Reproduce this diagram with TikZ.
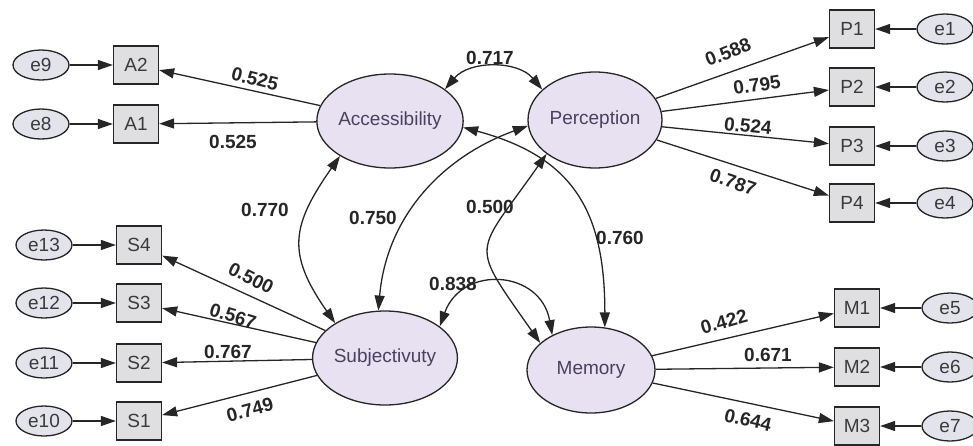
\documentclass[tikz,border=0pt]{standalone}
\usepackage{fontspec}
\setmainfont{Liberation Sans}
\usetikzlibrary{arrows.meta,shapes.geometric}
\definecolor{latfill}{HTML}{E8E1F1}
\definecolor{boxfill}{HTML}{DFDFE2}
\definecolor{errfill}{HTML}{E3E3EC}
\definecolor{lattext}{HTML}{4A4060}
\definecolor{boxtext}{HTML}{3A3A3A}
\definecolor{linecol}{HTML}{262626}

\begin{document}
\begin{tikzpicture}[x=1pt,y=1pt,
    latent/.style={draw=linecol, line width=1.3pt, ellipse, fill=latfill, minimum width=132pt, minimum height=94pt, inner sep=0pt, text=lattext, font=\fontsize{19}{22}\selectfont},
    manifest/.style={draw=linecol, line width=1.3pt, fill=boxfill, minimum width=45pt, minimum height=38pt, inner sep=0pt, text=boxtext, font=\fontsize{19}{22}\selectfont},
    errvar/.style={draw=linecol, line width=1.3pt, ellipse, fill=errfill, minimum width=56pt, minimum height=30pt, inner sep=0pt, text=boxtext, font=\fontsize{19}{22}\selectfont},
    coef/.style={text=linecol, font=\bfseries\fontsize{19}{22}\selectfont, inner sep=0pt},
    load/.style={draw=linecol, line width=1.3pt, -{Triangle[length=15pt,width=10pt]}},
    cov/.style={draw=linecol, line width=1.3pt, {Triangle[length=15pt,width=10pt]}-{Triangle[length=15pt,width=10pt]}}]
    \useasboundingbox (0,0) rectangle (973,-445);

    \node[latent, minimum width=128pt] (acc) at (390,-121) {Accessibility};
    \node[latent, minimum width=134pt, minimum height=96pt] (per) at (595,-120) {Perception};
    \node[latent, minimum width=140pt] (sub) at (385,-358) {Subjectivuty};
    \node[latent, minimum width=128pt, minimum height=86pt] (mem) at (591,-370) {Memory};

    \node[manifest] (A2) at (136,-65) {A2};
    \node[manifest] (A1) at (136,-124) {A1};
    \node[errvar] (e9) at (41,-65) {e9};
    \node[errvar] (e8) at (41,-124) {e8};

    \node[manifest] (S4) at (139,-245) {S4};
    \node[manifest] (S3) at (139,-303) {S3};
    \node[manifest] (S2) at (139,-363) {S2};
    \node[manifest] (S1) at (139,-421) {S1};
    \node[errvar] (e13) at (44,-245) {e13};
    \node[errvar] (e12) at (44,-303) {e12};
    \node[errvar] (e11) at (44,-363) {e11};
    \node[errvar] (e10) at (44,-421) {e10};

    \node[manifest] (P1) at (852,-29) {P1};
    \node[manifest] (P2) at (852,-87) {P2};
    \node[manifest] (P3) at (852,-146) {P3};
    \node[manifest] (P4) at (852,-203) {P4};
    \node[errvar] (e1) at (945,-29) {e1};
    \node[errvar] (e2) at (945,-87) {e2};
    \node[errvar] (e3) at (945,-146) {e3};
    \node[errvar] (e4) at (945,-203) {e4};

    \node[manifest] (M1) at (857,-308) {M1};
    \node[manifest] (M2) at (857,-367) {M2};
    \node[manifest] (M3) at (857,-426) {M3};
    \node[errvar] (e5) at (950,-308) {e5};
    \node[errvar] (e6) at (950,-367) {e6};
    \node[errvar] (e7) at (950,-426) {e7};

    \draw[load] (e9) -- (A2);
    \draw[load] (e8) -- (A1);
    \draw[load] (acc) -- (A2);
    \draw[load] (acc) -- (A1);
    \draw[load] (e13) -- (S4);
    \draw[load] (e12) -- (S3);
    \draw[load] (e11) -- (S2);
    \draw[load] (e10) -- (S1);
    \draw[load] (sub) -- (S4);
    \draw[load] (sub) -- (S3);
    \draw[load] (sub) -- (S2);
    \draw[load] (sub) -- (S1);
    \draw[load] (per) -- (P1);
    \draw[load] (per) -- (P2);
    \draw[load] (per) -- (P3);
    \draw[load] (per) -- (P4);
    \draw[load] (e1) -- (P1);
    \draw[load] (e2) -- (P2);
    \draw[load] (e3) -- (P3);
    \draw[load] (e4) -- (P4);
    \draw[load] (mem) -- (M1);
    \draw[load] (mem) -- (M2);
    \draw[load] (mem) -- (M3);
    \draw[load] (e5) -- (M1);
    \draw[load] (e6) -- (M2);
    \draw[load] (e7) -- (M3);

    \draw[cov] (acc.30) to[bend left=50] (per.150);
    \draw[cov] (acc.215) to[out=235, in=125, looseness=1.3] (sub.145);
    \draw[cov] (per.185) to[out=200, in=85] (sub.98);
    \draw[cov] (acc.-5) to[out=-15, in=90, looseness=1.2] (mem.72);
    \draw[cov] (per.215) to[out=235, in=125, looseness=1.7] (mem.152);
    \draw[cov] (sub.30) to[out=70, in=100, looseness=1.5] (mem.138);

    \node[coef, rotate=-14] (c1) at (255,-79) {0.525};
    \node[coef] (c2) at (233,-142) {0.525};
    \node[coef] (c3) at (490,-58) {0.717};
    \node[coef] (c4) at (265,-210) {0.770};
    \node[coef] (c5) at (373,-218) {0.750};
    \node[coef] (c6) at (490,-207) {0.500};
    \node[coef] (c7) at (620,-238) {0.760};
    \node[coef] (c8) at (453,-284) {0.838};
    \node[coef, rotate=22] (c9) at (728,-52) {0.588};
    \node[coef, rotate=8] (c10) at (757,-85) {0.795};
    \node[coef, rotate=-6] (c11) at (748,-126) {0.524};
    \node[coef, rotate=-19] (c12) at (733,-182) {0.787};
    \node[coef, rotate=-27] (c13) at (251,-278) {0.500};
    \node[coef, rotate=-17] (c14) at (233,-316) {0.567};
    \node[coef] (c15) at (228,-352) {0.767};
    \node[coef, rotate=15] (c16) at (250,-410) {0.749};
    \node[coef, rotate=16] (c17) at (724,-322) {0.422};
    \node[coef] (c18) at (768,-355) {0.671};
    \node[coef, rotate=-13] (c19) at (748,-420) {0.644};
\end{tikzpicture}
\end{document}
